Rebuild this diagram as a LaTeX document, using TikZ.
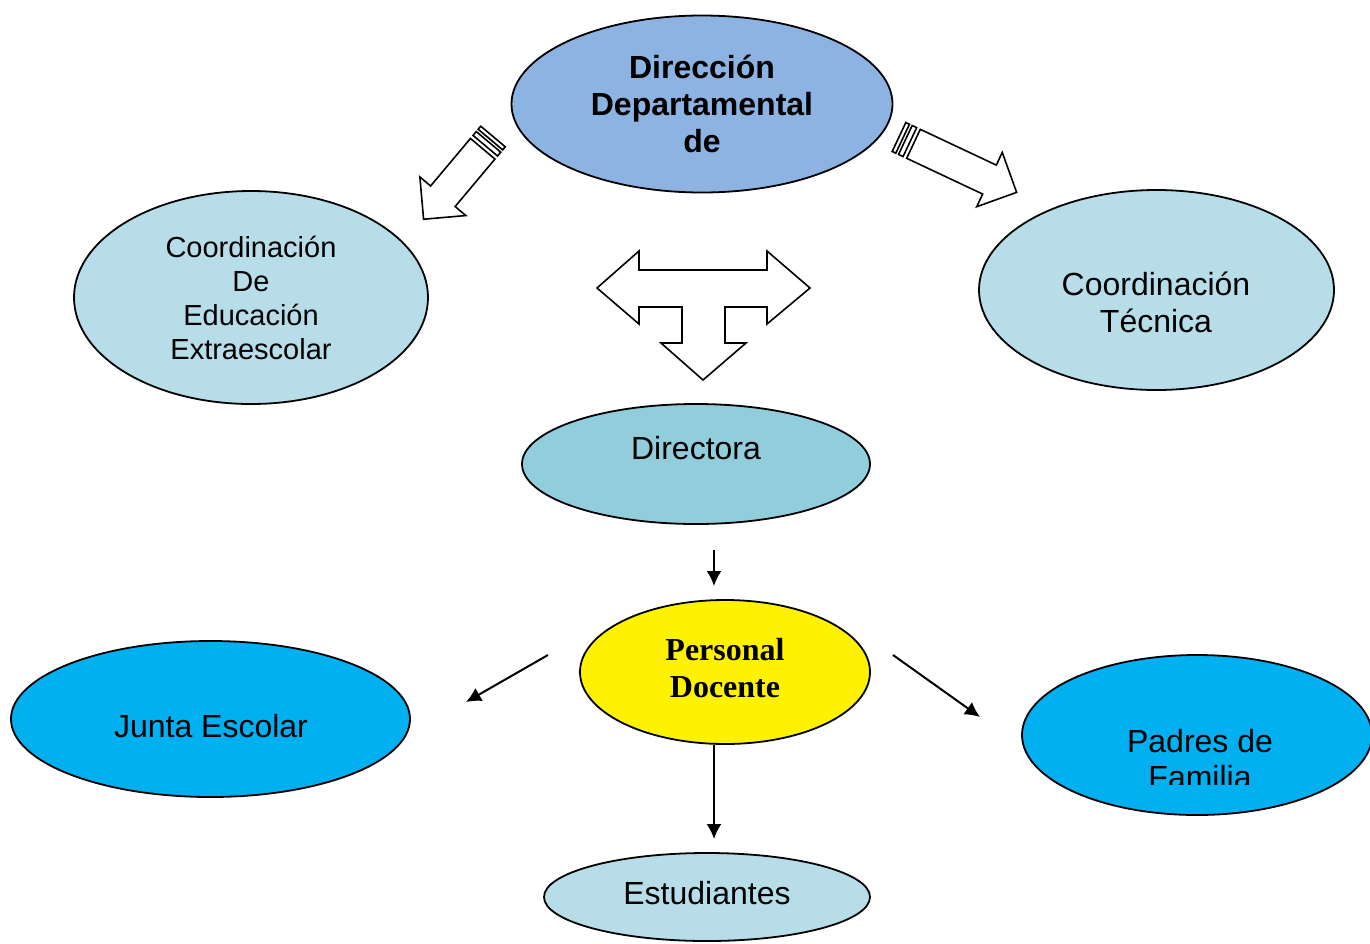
\documentclass[tikz,border=0pt]{standalone}
\usepackage{fontspec}
\setmainfont{Liberation Sans}
\newfontfamily\tnr{Liberation Serif}
\usetikzlibrary{shapes.geometric,arrows.meta,calc}

\definecolor{dirblue}{HTML}{8DB3E2}
\definecolor{lightblue}{HTML}{B7DEE8}
\definecolor{midblue}{HTML}{92CDDC}
\definecolor{skyblue}{HTML}{00B0F0}

\begin{document}
\begin{tikzpicture}[x=0.5pt,y=-0.5pt,
  ell/.style={ellipse,draw,line width=0.9pt,inner sep=0pt},
  txt/.style={align=center,inner sep=0pt,font=\fontsize{16}{18.5}\selectfont},
  arr/.style={-{Latex[length=7.5pt,width=7.5pt]},line width=1pt},
  hollow/.style={draw,line width=0.8pt,fill=white,line join=miter},
  stripe arrow/.pic={
    \path[hollow] (0,-16) rectangle (4,16);
    \path[hollow] (7,-16) rectangle (12,16);
    \path[hollow] (16,-16) -- (#1-30,-16) -- (#1-30,-30) -- (#1,0)
      -- (#1-30,30) -- (#1-30,16) -- (16,16) -- cycle;
  }]
\useasboundingbox (0,0) rectangle (1370,943);

% ellipses
\node[ell,fill=dirblue,minimum width=190.5pt,minimum height=88.5pt] (dirdep) at (702,104) {};
\node[ell,fill=lightblue,minimum width=177pt,minimum height=106.5pt] (coordext) at (251,297.5) {};
\node[ell,fill=lightblue,minimum width=177.5pt,minimum height=100pt] (coordtec) at (1156.5,290) {};
\node[ell,fill=midblue,minimum width=174pt,minimum height=60pt] (directora) at (696,464) {};
\node[ell,fill=yellow,minimum width=145pt,minimum height=72pt] (personal) at (725,672) {};
\node[ell,fill=skyblue,minimum width=199.5pt,minimum height=78pt] (junta) at (210.5,719) {};
\node[ell,fill=skyblue,minimum width=175pt,minimum height=80pt] (padres) at (1197,735) {};
\node[ell,fill=lightblue,minimum width=163pt,minimum height=44pt] (estud) at (707,897) {};

% texts
\node[txt,font=\fontsize{16}{18.5}\selectfont\bfseries] (dirdepT) at (dirdep.center) {Dirección\\Departamental\\de};
\node[txt,font=\fontsize{14.5}{17}\selectfont] (coordextT) at (coordext.center) {Coordinación\\De\\Educación\\Extraescolar};
\node[txt] (coordtecT) at (1156,302) {Coordinación\\Técnica};
\node[txt] (directoraT) at (696,448) {Directora};
\node[txt,font=\fontsize{16}{18.5}\selectfont\tnr\bfseries] (personalT) at (725,668) {Personal\\Docente};
\node[txt] (juntaT) at (211,726) {Junta Escolar};
\begin{scope}
  \clip (1000,650) rectangle (1370,784);
  \node[txt,font=\fontsize{16}{18}\selectfont] (padresT) at (1200,759) {Padres de\\Familia};
\end{scope}
\node[txt] (estudT) at (707,893) {Estudiantes};

% hollow arrows
\pic[rotate=-130] (leftarr) at (493,136.5) {stripe arrow=108};
\pic[rotate=-25.2] (rightarr) at (899,137) {stripe arrow=130};
\path[hollow] (597,288) -- (639,251) -- (639,270) -- (767,270) -- (767,251)
  -- (810,288) -- (767,324) -- (767,307) -- (725,307) -- (725,343)
  -- (746,343) -- (703,380) -- (661,343) -- (682,343) -- (682,307)
  -- (639,307) -- (639,324) -- cycle;

% thin arrows
\coordinate (d1) at (714,550);
\coordinate (d2) at (714,586);
\coordinate (j1) at (548,655);
\coordinate (j2) at (466,702);
\coordinate (p1) at (893,655);
\coordinate (p2) at (980,717);
\coordinate (e1) at (714,839);
\draw[arr] (d1) -- (d2);
\draw[arr] (j1) -- (j2);
\draw[arr] (p1) -- (p2);
\draw[arr] (personal.south -| e1) -- (e1);
\end{tikzpicture}
\end{document}
